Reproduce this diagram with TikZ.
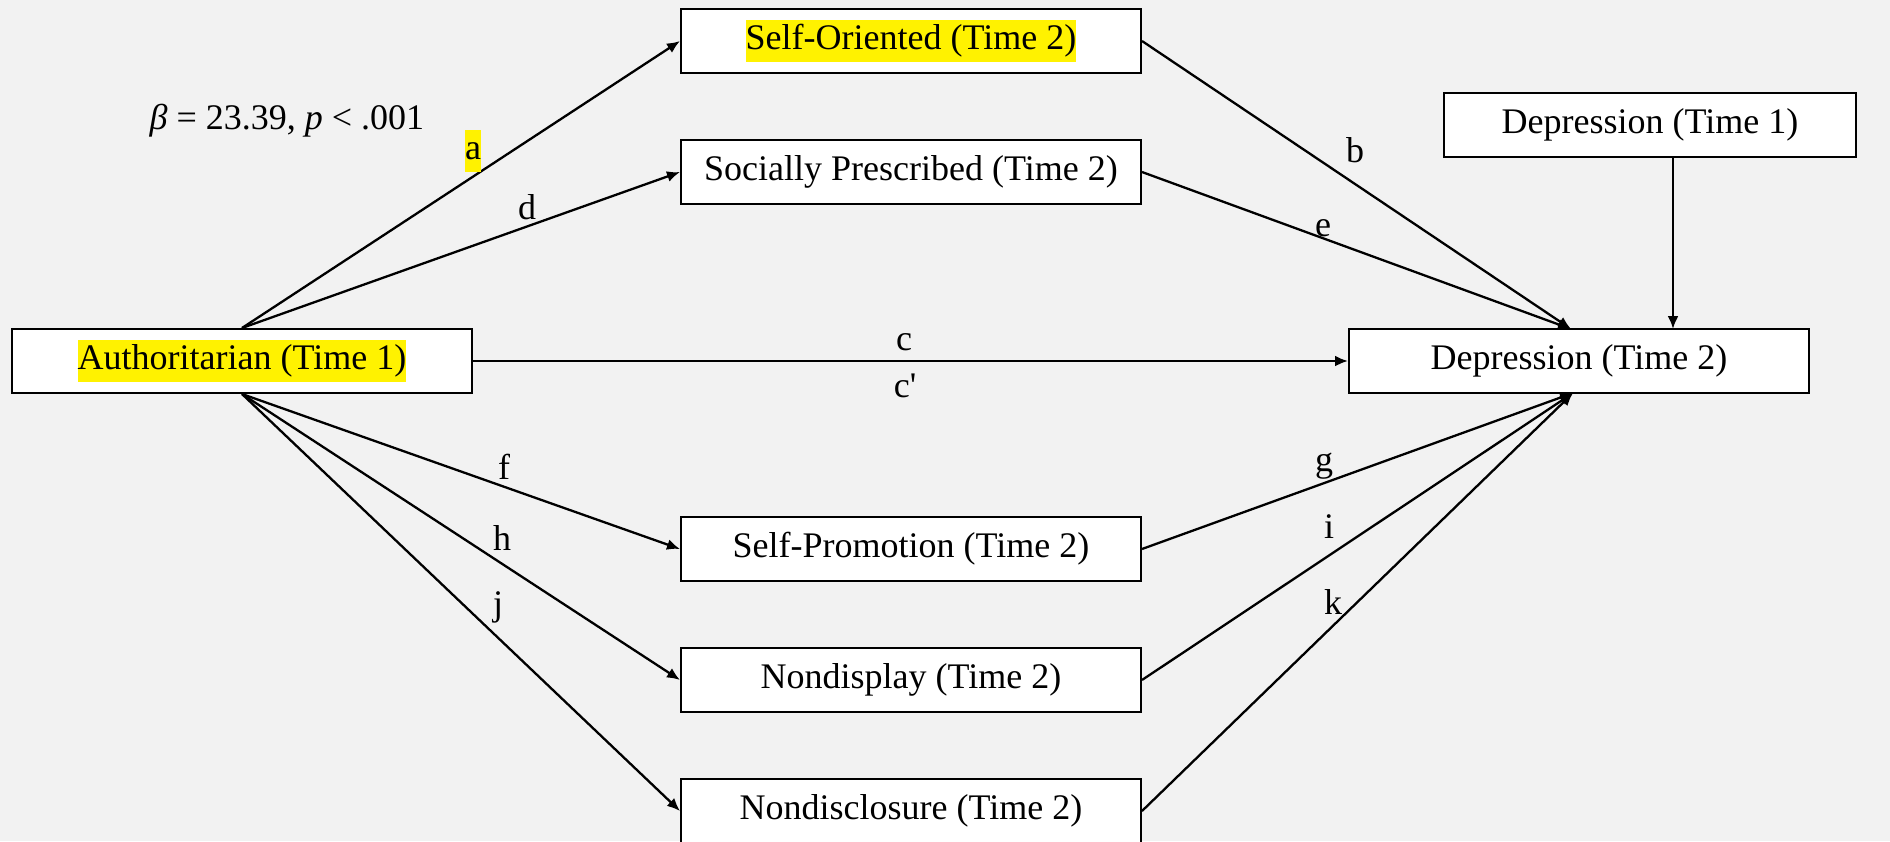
\documentclass[tikz,border=0pt]{standalone}
\usepackage{fontspec}
\setmainfont{Liberation Serif}
\usepackage{tikz}
\usetikzlibrary{shapes.geometric, arrows, arrows.meta}
\usepackage{xcolor}
\definecolor{pagegray}{HTML}{F2F2F2}
\tikzstyle{arrow} = [line width=1.15pt,-{Latex[length=6.5pt,width=5.5pt]}]
\newcommand{\hl}[1]{{\setlength{\fboxsep}{0pt}\colorbox{yellow}{\strut #1}}}

\begin{document}
\begin{tikzpicture}
        [
            x=0.5pt, y=-0.5pt,
            font=\fontsize{18}{21}\selectfont,
            box/.style={rectangle,draw=black,line width=1pt,fill=white,minimum width=230pt,minimum height=32pt,inner sep=0pt},
            lab/.style={inner sep=0pt},
        ]

    \fill[pagegray] (0,0) rectangle (1890,841);
    \clip (0,0) rectangle (1890,841);

    \node[box] (auth) at (242,361){\hl{Authoritarian (Time 1)}};
    \node[box] (selfor) at (911,41){\hl{Self-Oriented (Time 2)}};
    \node[box] (socpre) at (911,172){Socially Prescribed (Time 2)};
    \node[box] (selfpro) at (911,549){Self-Promotion (Time 2)};
    \node[box] (nondisp) at (911,680){Nondisplay (Time 2)};
    \node[box] (nondiscl) at (911,811){Nondisclosure (Time 2)};
    \node[box] (dep2) at (1579,361){Depression (Time 2)};
    \node[box,minimum width=206pt] (dep1) at (1650,125){Depression (Time 1)};

    \coordinate (dep2top) at (1571,329);
    \coordinate (dep2bot) at (1573,393);
    \coordinate (d1d2) at (1673,329);

    \foreach \m in {selfor,socpre}
        \draw[arrow] (auth.north) -- (\m.west);
    \foreach \m in {selfpro,nondisp,nondiscl}
        \draw[arrow] (auth.south) -- (\m.west);
    \foreach \m in {selfor,socpre}
        \draw[arrow] (\m.east) -- (dep2top);
    \foreach \m in {selfpro,nondisp,nondiscl}
        \draw[arrow] (\m.east) -- (dep2bot);
    \draw[arrow] (auth.east) -- (dep2.west);
    \draw[arrow] (d1d2 |- dep1.south) -- (d1d2);

    \node (beta) at (287,121){\textit{β} = 23.39, \textit{p} < .001};
    \node[lab] (laba) at (473,151){\hl{a}};
    \foreach \l/\x/\y in {d/527/207, b/1355/150, e/1323/228, c/904/342, f/504/467, h/502/538, j/498/607, g/1324/466, i/1329/527, k/1333/602}
        \node[lab] (lab\l) at (\x,\y){\l};
    \node[lab] (labcp) at (905,386){c\textquotesingle};
\end{tikzpicture}
\end{document}
